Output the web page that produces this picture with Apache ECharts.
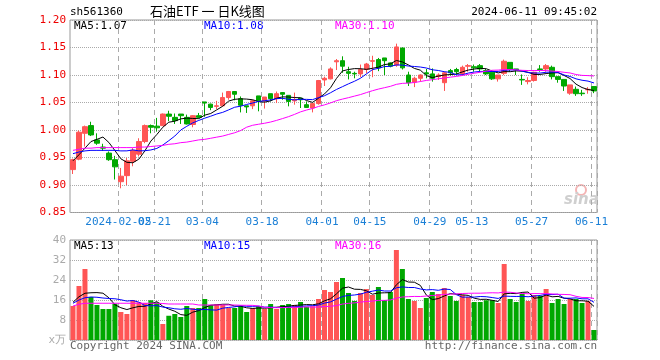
<!DOCTYPE html>
<html><head><meta charset="utf-8">
<script src="https://cdn.jsdelivr.net/npm/echarts@6/dist/echarts.min.js"></script>
<style>html,body{margin:0;padding:0;background:#fff}#c{width:660px;height:360px}</style>
</head><body><div id="c"></div>
<script>
const dates = ['2024-01-24','2024-01-25','2024-01-26','2024-01-29','2024-01-30','2024-01-31','2024-02-01','2024-02-02',
'2024-02-05','2024-02-06','2024-02-07','2024-02-08','2024-02-19','2024-02-20','2024-02-21','2024-02-22','2024-02-23',
'2024-02-26','2024-02-27','2024-02-28','2024-02-29','2024-03-01','2024-03-04','2024-03-05','2024-03-06','2024-03-07','2024-03-08',
'2024-03-11','2024-03-12','2024-03-13','2024-03-14','2024-03-15','2024-03-18','2024-03-19','2024-03-20','2024-03-21','2024-03-22',
'2024-03-25','2024-03-26','2024-03-27','2024-03-28','2024-03-29','2024-04-01','2024-04-02','2024-04-03','2024-04-08','2024-04-09',
'2024-04-10','2024-04-11','2024-04-12','2024-04-15','2024-04-16','2024-04-17','2024-04-18','2024-04-19','2024-04-22','2024-04-23',
'2024-04-24','2024-04-25','2024-04-26','2024-04-29','2024-04-30','2024-05-06','2024-05-07','2024-05-08','2024-05-09','2024-05-10',
'2024-05-13','2024-05-14','2024-05-15','2024-05-16','2024-05-17','2024-05-20','2024-05-21','2024-05-22','2024-05-23','2024-05-24',
'2024-05-27','2024-05-28','2024-05-29','2024-05-30','2024-05-31','2024-06-03','2024-06-04','2024-06-05','2024-06-06','2024-06-07','2024-06-11'];

const labelDates = ['2024-02-05','2024-02-21','2024-03-04','2024-03-18','2024-04-01','2024-04-15','2024-04-29','2024-05-13','2024-05-27','2024-06-11'];
const tickLabels = ['2024-02-05','02-21','03-04','03-18','04-01','04-15','04-29','05-13','05-27','06-11'];

const open = [0.928,0.947,0.994,1.008,0.982,0.969,0.958,0.946,0.906,0.917,0.943,0.956,0.979,1.008,1.007,1.008,1.029,1.023,1.029,1.023,1.010,1.026,
1.051,1.047,1.043,1.044,1.059,1.070,1.057,1.044,1.044,1.062,1.053,1.066,1.057,1.068,1.063,1.053,1.058,1.046,1.040,1.048,1.091,1.093,
1.124,1.126,1.106,1.103,1.102,1.110,1.125,1.128,1.131,1.122,1.118,1.149,1.100,1.087,1.094,1.104,1.102,1.097,1.086,1.108,1.110,1.102,
1.116,1.115,1.117,1.108,1.105,1.093,1.103,1.123,1.111,1.092,1.088,1.090,1.111,1.111,1.114,1.097,1.092,1.067,1.074,1.067,1.073,1.079];
const close = [0.946,0.996,1.006,0.991,0.976,0.967,0.946,0.933,0.916,0.944,0.963,0.979,1.008,1.005,1.004,1.029,1.025,1.017,1.026,1.011,1.026,1.023,
1.049,1.041,1.044,1.059,1.070,1.065,1.045,1.042,1.053,1.053,1.060,1.057,1.066,1.065,1.052,1.055,1.055,1.041,1.048,1.090,1.094,1.111,
1.126,1.116,1.103,1.102,1.110,1.120,1.126,1.113,1.126,1.116,1.151,1.113,1.086,1.094,1.100,1.102,1.094,1.100,1.104,1.104,1.106,1.114,
1.117,1.113,1.111,1.102,1.093,1.100,1.125,1.110,1.109,1.091,1.090,1.105,1.110,1.117,1.097,1.092,1.080,1.082,1.066,1.066,1.074,1.071];
const low = [0.920,0.945,0.970,0.989,0.973,0.962,0.944,0.910,0.894,0.900,0.934,0.952,0.976,0.994,0.997,1.007,1.016,1.011,1.011,1.010,1.005,1.021,
1.024,1.036,1.038,1.043,1.055,1.054,1.032,1.031,1.038,1.034,1.039,1.052,1.049,1.055,1.043,1.046,1.040,1.040,1.032,1.046,1.080,1.092,
1.109,1.104,1.092,1.094,1.096,1.103,1.096,1.107,1.100,1.114,1.115,1.110,1.080,1.078,1.088,1.094,1.088,1.091,1.071,1.099,1.101,1.100,
1.106,1.106,1.106,1.100,1.091,1.088,1.100,1.106,1.100,1.082,1.083,1.088,1.106,1.106,1.092,1.086,1.071,1.064,1.062,1.062,1.066,1.067];
const high = [0.948,0.999,1.008,1.015,0.994,0.975,0.961,0.953,0.931,0.949,0.967,0.985,1.010,1.010,1.022,1.030,1.035,1.030,1.029,1.028,1.027,1.031,
1.051,1.048,1.053,1.068,1.071,1.070,1.061,1.044,1.055,1.062,1.060,1.066,1.070,1.069,1.063,1.068,1.058,1.052,1.048,1.091,1.097,1.114,
1.129,1.134,1.115,1.106,1.119,1.122,1.135,1.131,1.131,1.123,1.157,1.150,1.106,1.097,1.101,1.111,1.112,1.103,1.106,1.111,1.113,1.117,
1.120,1.119,1.120,1.111,1.105,1.100,1.128,1.123,1.111,1.101,1.096,1.106,1.118,1.120,1.117,1.097,1.092,1.082,1.079,1.073,1.078,1.080];

// volume in 万
const volume = [13.6,21.6,28.4,17.2,14.0,12.4,12.4,14.5,11.2,10.4,15.9,15.1,14.8,15.9,15.1,6.4,9.7,10.4,9.2,13.6,12.8,12.8,
16.4,14.0,14.3,14.0,12.8,12.8,13.6,11.2,12.8,13.6,12.4,14.4,12.4,14.0,14.4,14.0,15.2,13.3,13.5,16.4,20.0,19.2,
23.2,24.8,18.8,15.6,18.8,20.4,18.0,21.2,16.0,19.2,36.0,28.4,16.4,15.6,12.8,16.8,19.2,18.4,20.8,17.6,15.6,18.0,
17.2,15.2,15.2,15.9,15.9,14.8,30.4,16.4,15.2,18.4,15.6,18.0,17.6,20.4,14.8,16.4,14.4,16.4,16.4,14.8,15.6,4.0];

// leading MA values (window not yet complete inside the visible range)
const ma5Head = [0.944,0.955,0.967,0.979];
const ma10Head = [0.957,0.960,0.962,0.963,0.963,0.963,0.963,0.963,0.962];
const ma30Head = [0.963,0.965,0.967,0.967,0.968,0.968,0.968,0.968,0.968,0.968,0.968,0.969,0.969,0.970,0.971,0.972,0.974,0.975,0.977,
0.978,0.980,0.982,0.983,0.985,0.987,0.989,0.992,0.995,0.999];
const vma5Head = [15.1,17.3,18.7,18.9];
const vma10Head = [14.7,16.0,16.9,17.2,17.1,16.8,16.6,16.5,16.1];
const vma30Head = [13.6,14.3,14.7,14.7,14.7,14.7,14.7,14.7,14.7,14.7,14.7,14.7,14.7,14.7,14.7,14.6,14.4,14.4,14.4,14.4,14.4,
14.0,14.0,14.0,14.0,14.0,14.0,14.0,13.9];

function ma(vals, n, head, dp) {
  return vals.map((v, i) => {
    if (i < n - 1) return head[i];
    let s = 0; for (let k = i - n + 1; k <= i; k++) s += vals[k];
    return +(s / n).toFixed(dp);
  });
}

const kData = open.map((o, i) => [o, close[i], low[i], high[i]]);
const UP = '#ff5555', DOWN = '#00a800';
const volData = volume.map((v, i) => ({ value: v, itemStyle: { color: close[i] >= open[i] ? UP : DOWN } }));

const mono = 'DejaVu Sans Mono';
const isLabel = (idx, val) => labelDates.indexOf(val) >= 0;
// first date label drawn by its own axis so that it may overlap the next one, as in the original
const isFirstLabel = (idx, val) => val === labelDates[0];
const isOtherLabel = (idx, val) => labelDates.indexOf(val) > 0;
const gridLineStyle = { color: '#aaa', type: [5, 4], width: 1 };
const dateLabel = {
  hideOverlap: false, color: '#1a7fd6', fontFamily: mono, fontSize: 11, margin: 4, padding: [0, 5, 0, 0],
  formatter: v => tickLabels[labelDates.indexOf(v)] || ''
};

const chart = echarts.init(document.getElementById('c'), null, { renderer: 'canvas' });
chart.setOption({
  animation: false,
  backgroundColor: '#fff',
  grid: [
    { left: 70, right: 63, top: 20, height: 192.5, show: true, borderColor: '#999', borderWidth: 1, backgroundColor: 'transparent' },
    { left: 70, right: 63, top: 240, height: 100, show: true, borderColor: '#999', borderWidth: 1, backgroundColor: 'transparent' }
  ],
  xAxis: [
    { type: 'category', gridIndex: 0, data: dates, boundaryGap: true, position: 'bottom',
      axisLine: { show: false }, axisTick: { show: false },
      axisLabel: Object.assign({ interval: isOtherLabel }, dateLabel),
      splitLine: { show: true, interval: isLabel, lineStyle: gridLineStyle } },
    { type: 'category', gridIndex: 1, data: dates, boundaryGap: true,
      axisLine: { show: false }, axisTick: { show: false }, axisLabel: { show: false },
      splitLine: { show: true, interval: isLabel, lineStyle: gridLineStyle } },
    { type: 'category', gridIndex: 0, data: dates, boundaryGap: true, position: 'bottom', offset: 0,
      axisLine: { show: false }, axisTick: { show: false }, splitLine: { show: false },
      axisLabel: Object.assign({ interval: isFirstLabel, showMinLabel: true }, dateLabel) }
  ],
  yAxis: [
    { type: 'value', gridIndex: 0, min: 0.85, max: 1.20, interval: 0.05, scale: true,
      axisLine: { show: false }, axisTick: { show: false },
      axisLabel: { color: '#ee0000', fontFamily: mono, fontSize: 11, margin: 4, formatter: v => v.toFixed(2) },
      splitLine: { lineStyle: { color: '#aaa', type: 'dotted' } } },
    { type: 'value', gridIndex: 1, min: 0, max: 40, interval: 8,
      axisLine: { show: false }, axisTick: { show: false },
      axisLabel: { color: '#aaa', fontFamily: mono, fontSize: 11, margin: 4, formatter: v => v === 0 ? 'x万' : String(v) },
      splitLine: { lineStyle: { color: '#aaa', type: 'dotted' } } }
  ],
  series: [
    { type: 'candlestick', xAxisIndex: 0, yAxisIndex: 0, data: kData, barWidth: 5,
      itemStyle: { color: UP, color0: DOWN, borderColor: UP, borderColor0: DOWN, borderWidth: 1 } },
    { type: 'line', xAxisIndex: 0, yAxisIndex: 0, data: ma(close, 5, ma5Head, 4), symbol: 'none', lineStyle: { color: '#000', width: 1 } },
    { type: 'line', xAxisIndex: 0, yAxisIndex: 0, data: ma(close, 10, ma10Head, 4), symbol: 'none', lineStyle: { color: '#0000ff', width: 1 } },
    { type: 'line', xAxisIndex: 0, yAxisIndex: 0, data: ma(close, 30, ma30Head, 4), symbol: 'none', lineStyle: { color: '#ff00ff', width: 1 } },
    { type: 'bar', xAxisIndex: 1, yAxisIndex: 1, data: volData, barWidth: 5 },
    { type: 'line', xAxisIndex: 1, yAxisIndex: 1, data: ma(volume, 5, vma5Head, 2), symbol: 'none', lineStyle: { color: '#000', width: 1 } },
    { type: 'line', xAxisIndex: 1, yAxisIndex: 1, data: ma(volume, 10, vma10Head, 2), symbol: 'none', lineStyle: { color: '#0000ff', width: 1 } },
    { type: 'line', xAxisIndex: 1, yAxisIndex: 1, data: ma(volume, 30, vma30Head, 2), symbol: 'none', lineStyle: { color: '#ff00ff', width: 1 } }
  ],
  graphic: [
    { type: 'text', left: 70, top: 7, style: { text: 'sh561360', font: '11px "DejaVu Sans Mono"', fill: '#000' } },
    { type: 'text', left: 150, top: 5, style: { text: '石油ETF 一 日K线图', font: '13px "Noto Sans CJK SC"', fill: '#000' } },
    { type: 'text', right: 63, top: 7, style: { text: '2024-06-11 09:45:02', font: '11px "DejaVu Sans Mono"', fill: '#000' } },
    { type: 'text', left: 74, top: 21, style: { text: 'MA5:1.07', font: '11px "DejaVu Sans Mono"', fill: '#000' } },
    { type: 'text', left: 204, top: 21, style: { text: 'MA10:1.08', font: '11px "DejaVu Sans Mono"', fill: '#0000ff' } },
    { type: 'text', left: 335, top: 21, style: { text: 'MA30:1.10', font: '11px "DejaVu Sans Mono"', fill: '#ff00ff' } },
    { type: 'text', left: 74, top: 241, style: { text: 'MA5:13', font: '11px "DejaVu Sans Mono"', fill: '#000' } },
    { type: 'text', left: 204, top: 241, style: { text: 'MA10:15', font: '11px "DejaVu Sans Mono"', fill: '#0000ff' } },
    { type: 'text', left: 335, top: 241, style: { text: 'MA30:16', font: '11px "DejaVu Sans Mono"', fill: '#ff00ff' } },
    { type: 'text', left: 70, top: 341, style: { text: 'Copyright 2024 SINA.COM', font: '11px "DejaVu Sans Mono"', fill: '#666' } },
    { type: 'text', right: 63, top: 341, style: { text: 'http://finance.sina.com.cn', font: '11px "DejaVu Sans Mono"', fill: '#666' } },
    { type: 'circle', shape: { cx: 581, cy: 190, r: 5 }, style: { fill: 'none', stroke: '#f4b4b4', lineWidth: 2 } },
    { type: 'text', left: 564, top: 193, style: { text: 'sina', font: 'italic bold 15px "DejaVu Sans"', fill: '#cfcfcf' } }
  ]
});
</script></body></html>
